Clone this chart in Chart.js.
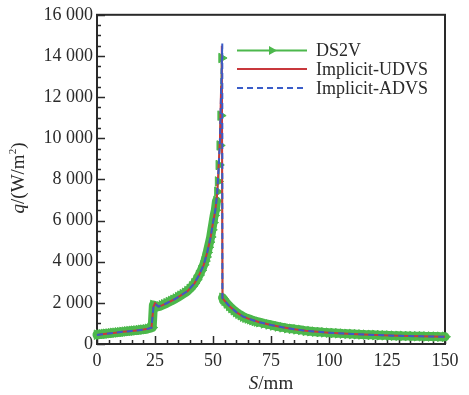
<!DOCTYPE html>
<html>
<head>
<meta charset="utf-8">
<script src="https://cdn.jsdelivr.net/npm/chart.js@4.4.1/dist/chart.umd.min.js"></script>
<style>
  html, body { margin: 0; padding: 0; background: #fff; }
  #wrap { width: 469px; height: 395px; }
</style>
</head>
<body>
<div id="wrap"><canvas id="c"></canvas></div>
<script>
// DS2V (markers)
const ds2vS = [0, 1, 2, 3, 4, 5, 6, 7, 8, 9, 10, 11, 12, 13, 14, 15, 16, 17, 18, 19, 20, 21, 22, 23, 23.8,
  24.3, 25, 26, 27, 28, 29, 30, 31, 32, 33, 34, 35, 36, 37, 38, 39, 40, 41, 42, 43, 44, 45, 46, 46.5, 47,
  47.5, 48, 48.5, 49, 49.5, 50, 50.5, 51, 51.5, 51.9, 52.2, 52.5, 52.9, 53.3, 53.7,
  54.1, 54.5, 55, 56, 57, 58, 59, 60, 61, 62, 63, 64, 65, 66, 67, 68, 69, 70, 72, 74, 76, 78, 80, 82, 84,
  86, 88, 90, 92, 94, 96, 98, 100, 102, 104, 106, 108, 110, 112, 114, 116, 118, 120, 122, 124, 126, 128,
  130, 132, 134, 136, 138, 140, 142, 144, 146, 148, 150];
const ds2vQ = [450, 460, 475, 490, 500, 510, 525, 540, 550, 565, 575, 590, 600, 615, 625, 640, 650, 660, 675, 690, 700, 715, 740, 770, 800,
  1900, 1850, 1800, 1830, 1880, 1930, 1980, 2040, 2090, 2150, 2210, 2280, 2350, 2420, 2490, 2570, 2680, 2800, 2950, 3130, 3350, 3580, 3850, 4030, 4230,
  4450, 4700, 4950, 5200, 5550, 5900, 6250, 6500, 6950, 7400, 7900, 8700, 9650, 11100, 13900,
  2250, 2180, 2100, 1970, 1850, 1740, 1640, 1550, 1470, 1400, 1330, 1280, 1240, 1200, 1160, 1120, 1090, 1060, 1000, 950, 900, 850, 810, 770, 740,
  710, 685, 640, 620, 600, 580, 565, 550, 535, 520, 505, 495, 485, 475, 465, 455, 445, 438, 430, 420, 412, 405,
  398, 392, 387, 382, 377, 372, 368, 364, 360, 356, 352];

// Implicit-UDVS
const udvsS = [0, 2, 5, 8, 11, 14, 17, 20, 22, 23.5, 24.3, 25, 26.5, 28, 30, 33, 36, 39, 42, 44, 46, 47.5, 49, 50, 51, 51.8, 52.5, 53, 53.5, 53.8,
  54.1, 55, 57, 60, 63, 66, 70, 75, 80, 85, 90, 100, 110, 120, 130, 140, 150];
const udvsQ = [440, 470, 510, 550, 590, 625, 660, 700, 740, 790, 1800, 1980, 1820, 1880, 1980, 2150, 2350, 2570, 2950, 3350, 3850, 4450, 5200, 5900, 6500, 7300, 8800, 10000, 12500, 14500,
  2230, 2100, 1850, 1550, 1330, 1200, 1060, 920, 810, 720, 640, 550, 485, 438, 398, 372, 352];

// Implicit-ADVS
const advsS = [0, 2, 5, 8, 11, 14, 17, 20, 22, 23.5, 24.3, 25, 26.5, 28, 30, 33, 36, 39, 42, 44, 46, 47.5, 49, 50, 51, 51.8, 52.5, 53, 53.5, 54.0,
  54.05, 55, 57, 60, 63, 66, 70, 75, 80, 85, 90, 100, 110, 120, 130, 140, 150];
const advsQ = [440, 470, 510, 550, 590, 625, 660, 700, 740, 790, 1780, 1950, 1820, 1880, 1980, 2150, 2350, 2570, 2950, 3350, 3850, 4450, 5200, 5900, 6500, 7300, 8700, 9900, 12300, 14600,
  2230, 2100, 1850, 1550, 1330, 1200, 1060, 920, 810, 720, 640, 550, 485, 438, 398, 372, 352];

const xTicks = [0, 25, 50, 75, 100, 125, 150];
const xTickLabels = ['0', '25', '50', '75', '100', '125', '150'];
const yTicks = [0, 2000, 4000, 6000, 8000, 10000, 12000, 14000, 16000];
const yTickLabels = ['0', '2 000', '4 000', '6 000', '8 000', '10 000', '12 000', '14 000', '16 000'];

const SERIF = "'Liberation Serif', 'Times New Roman', serif";
const INK = '#2a2a2a';
const GREEN = '#4cb84c';
const RED = '#c8383c';
const BLUE = '#3a5cc8';

const toPts = (xs, ys) => xs.map((x, i) => ({ x: x, y: ys[i] }));

// frame and inward ticks, drawn under the data
const frame = {
  id: 'frame',
  beforeDatasetsDraw(chart) {
    const { ctx, chartArea: a, scales: { x, y } } = chart;
    ctx.save();
    ctx.strokeStyle = INK;
    ctx.lineWidth = 1.5;
    ctx.beginPath();
    for (let v = 0; v <= 16000; v += 500) {
      const py = Math.round(y.getPixelForValue(v)) + 0.5;
      const len = yTicks.includes(v) ? 8 : 4;
      ctx.moveTo(a.left, py);
      ctx.lineTo(a.left + len, py);
    }
    for (let v = 0; v <= 150; v += 5) {
      const px = Math.round(x.getPixelForValue(v)) + 0.5;
      const len = xTicks.includes(v) ? 8 : 4;
      ctx.moveTo(px, a.bottom);
      ctx.lineTo(px, a.bottom - len);
    }
    ctx.stroke();
    ctx.lineWidth = 2;
    ctx.strokeRect(a.left, a.top, a.right - a.left, a.bottom - a.top);
    ctx.restore();
  },
  afterDraw(chart) {
    const { ctx, chartArea: a } = chart;
    ctx.save();
    ctx.fillStyle = INK;
    ctx.textBaseline = 'middle';
    // x title: S/mm
    const xt = [['S', 'italic '], ['/mm', '']];
    ctx.font = 'italic 19px ' + SERIF;
    let w = ctx.measureText('S').width;
    ctx.font = '19px ' + SERIF;
    w += ctx.measureText('/mm').width;
    let cx = (a.left + a.right) / 2 - w / 2;
    ctx.textAlign = 'left';
    xt.forEach(([t, st]) => {
      ctx.font = st + '19px ' + SERIF;
      ctx.fillText(t, cx, 384);
      cx += ctx.measureText(t).width;
    });
    // y title: q/(W/m²)
    ctx.translate(19, 178);
    ctx.rotate(-Math.PI / 2);
    const yt = [['q', 'italic '], ['/(W/m', ''], ['2', 'sup'], [')', '']];
    let total = 0;
    yt.forEach(([t, st]) => {
      ctx.font = (st === 'sup' ? '11px ' : st + '19px ') + SERIF;
      total += ctx.measureText(t).width;
    });
    let px = -total / 2;
    yt.forEach(([t, st]) => {
      ctx.font = (st === 'sup' ? '11px ' : st + '19px ') + SERIF;
      ctx.fillText(t, px, st === 'sup' ? -6 : 0);
      px += ctx.measureText(t).width;
    });
    ctx.restore();
  }
};

// legend with line + marker samples
const legendBox = {
  id: 'legendBox',
  afterDraw(chart) {
    const { ctx } = chart;
    const rows = [50.5, 69, 88];
    ctx.save();
    chart.data.datasets.forEach((ds, i) => {
      const yy = rows[i];
      ctx.strokeStyle = ds.borderColor;
      ctx.lineWidth = 2;
      ctx.setLineDash(ds.borderDash || []);
      ctx.beginPath();
      ctx.moveTo(237, yy);
      ctx.lineTo(307, yy);
      ctx.stroke();
      ctx.setLineDash([]);
      if (ds.pointRadius > 0) {
        ctx.fillStyle = ds.pointBackgroundColor;
        ctx.beginPath();
        ctx.moveTo(277, yy);
        ctx.lineTo(269, yy - 4.5);
        ctx.lineTo(269, yy + 4.5);
        ctx.closePath();
        ctx.fill();
      }
      ctx.fillStyle = INK;
      ctx.font = '18px ' + SERIF;
      ctx.textAlign = 'left';
      ctx.textBaseline = 'middle';
      ctx.fillText(ds.label, 316, yy + 1);
    });
    ctx.restore();
  }
};

// the DS2V markers sit so close together that they form a wide band;
// only the sparse points on the spike stay thin
const bandWidth = ctx => (ctx.p0.parsed.y > 7000 || ctx.p1.parsed.y > 7000 ? 1.5 : 9);

new Chart(document.getElementById('c'), {
  type: 'line',
  data: {
    datasets: [
      {
        label: 'DS2V',
        data: toPts(ds2vS, ds2vQ),
        borderColor: GREEN,
        borderWidth: 2,
        borderJoinStyle: 'round',
        borderCapStyle: 'round',
        segment: { borderWidth: bandWidth },
        pointStyle: 'triangle',
        pointRotation: 90,
        pointRadius: 5.5,
        pointBackgroundColor: GREEN,
        pointBorderColor: GREEN,
        pointBorderWidth: 1,
        clip: false,
        order: 3
      },
      {
        label: 'Implicit-UDVS',
        data: toPts(udvsS, udvsQ),
        borderColor: RED,
        borderWidth: 2,
        pointRadius: 0,
        clip: false,
        order: 2
      },
      {
        label: 'Implicit-ADVS',
        data: toPts(advsS, advsQ),
        borderColor: BLUE,
        borderWidth: 2,
        borderDash: [6, 4],
        pointRadius: 0,
        clip: false,
        order: 1
      }
    ]
  },
  options: {
    responsive: true,
    maintainAspectRatio: false,
    animation: false,
    events: [],
    layout: { padding: { top: 14, right: 24, left: 0, bottom: 0 } },
    plugins: { legend: { display: false }, tooltip: { enabled: false } },
    scales: {
      x: {
        type: 'linear',
        min: 0,
        max: 150,
        afterBuildTicks: s => { s.ticks = xTicks.map(v => ({ value: v })); },
        afterFit: s => { s.height = 51; },
        grid: { display: false, drawTicks: false },
        border: { display: false },
        ticks: {
          autoSkip: false,
          maxRotation: 0,
          padding: 6,
          color: INK,
          font: { family: SERIF, size: 18 },
          callback: (v, i) => xTickLabels[i]
        }
      },
      y: {
        type: 'linear',
        min: 0,
        max: 16000,
        afterBuildTicks: s => { s.ticks = yTicks.map(v => ({ value: v })); },
        afterFit: s => { s.width = 97; },
        grid: { display: false, drawTicks: false },
        border: { display: false },
        ticks: {
          autoSkip: false,
          padding: 4,
          color: INK,
          font: { family: SERIF, size: 18 },
          callback: (v, i) => yTickLabels[i]
        }
      }
    }
  },
  plugins: [frame, legendBox]
});
</script>
</body>
</html>
